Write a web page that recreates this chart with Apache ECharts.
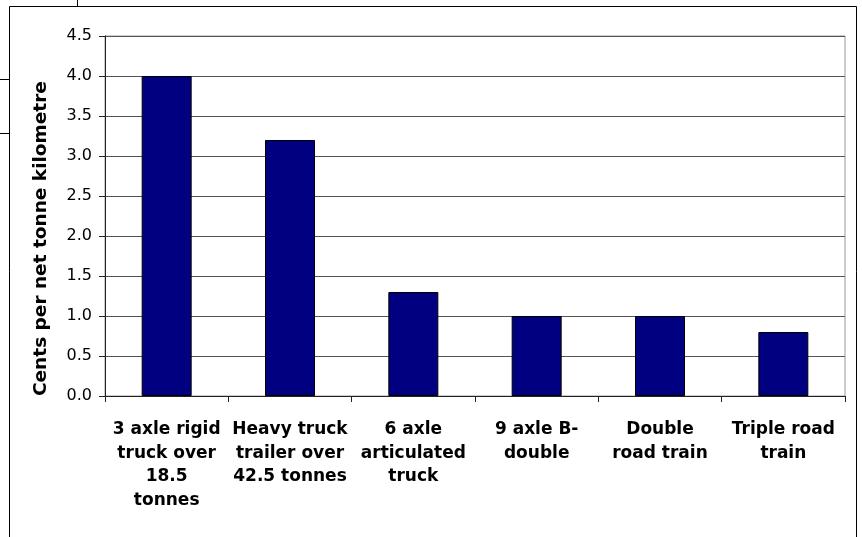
<!DOCTYPE html>
<html>
<head>
<meta charset="utf-8">
<script src="https://cdn.jsdelivr.net/npm/echarts@6/dist/echarts.min.js"></script>
<style>
  html, body { margin: 0; padding: 0; background: #fff; }
  #chart { width: 862px; height: 537px; }
</style>
</head>
<body>
<div id="chart"></div>
<script>
// Road freight cost by vehicle type
const categories = [
  '3 axle rigid\ntruck over\n18.5\ntonnes',
  'Heavy truck\ntrailer over\n42.5 tonnes',
  '6 axle\narticulated\ntruck',
  '9 axle B-\ndouble',
  'Double\nroad train',
  'Triple road\ntrain'
];
const centsPerNetTonneKm = [4.0, 3.2, 1.3, 1.0, 1.0, 0.8];
const yAxisTitle = 'Cents per net tonne kilometre';
const yMin = 0, yMax = 4.5, yStep = 0.5;

const chart = echarts.init(document.getElementById('chart'), null, { renderer: 'canvas' });

chart.setOption({
  animation: false,
  backgroundColor: '#ffffff',
  grid: {
    left: 105, right: 17, top: 36, bottom: 141,
    show: true, borderColor: '#9a9a9a', borderWidth: 1, backgroundColor: 'transparent'
  },
  xAxis: {
    type: 'category',
    data: categories,
    axisLine: { lineStyle: { color: '#222', width: 1 } },
    axisTick: { show: true, length: 6, lineStyle: { color: '#222' } },
    axisLabel: {
      interval: 0,
      margin: 22,
      color: '#000',
      fontFamily: 'DejaVu Sans',
      fontWeight: 'bold',
      fontSize: 17,
      lineHeight: 23.5,
      align: 'center'
    }
  },
  yAxis: {
    type: 'value',
    min: yMin, max: yMax, interval: yStep,
    axisLine: { show: true, lineStyle: { color: '#222', width: 1 } },
    axisTick: { show: true, length: 6, lineStyle: { color: '#222' } },
    splitLine: { show: true, lineStyle: { color: '#555', width: 1 } },
    axisLabel: {
      margin: 13,
      color: '#000',
      fontFamily: 'DejaVu Sans',
      fontSize: 16,
      formatter: v => v.toFixed(1)
    }
  },
  series: [{
    type: 'bar',
    data: centsPerNetTonneKm,
    barWidth: 50,
    itemStyle: { color: '#000080', borderColor: '#000', borderWidth: 1 }
  }],
  graphic: [
    // axis title, reading bottom to top
    {
      type: 'text',
      x: 32, y: 396,
      rotation: Math.PI / 2,
      style: {
        text: yAxisTitle,
        fontFamily: 'DejaVu Sans', fontWeight: 'bold', fontSize: 18.5,
        fill: '#000',
        align: 'left', verticalAlign: 'top'
      }
    },
    // chart frame
    { type: 'line', shape: { x1: 9.5, y1: 6.5, x2: 856.5, y2: 6.5 }, style: { stroke: '#000', lineWidth: 1 } },
    { type: 'line', shape: { x1: 9.5, y1: 6.5, x2: 9.5, y2: 537 }, style: { stroke: '#000', lineWidth: 1 } },
    { type: 'line', shape: { x1: 856.5, y1: 6.5, x2: 856.5, y2: 537 }, style: { stroke: '#000', lineWidth: 1 } },
    // surrounding table rules
    { type: 'line', shape: { x1: 77.5, y1: 0, x2: 77.5, y2: 6 }, style: { stroke: '#000', lineWidth: 1 } },
    { type: 'line', shape: { x1: 0, y1: 79.5, x2: 9, y2: 79.5 }, style: { stroke: '#000', lineWidth: 1 } },
    { type: 'line', shape: { x1: 0, y1: 133.5, x2: 9, y2: 133.5 }, style: { stroke: '#000', lineWidth: 1 } }
  ]
});
</script>
</body>
</html>
